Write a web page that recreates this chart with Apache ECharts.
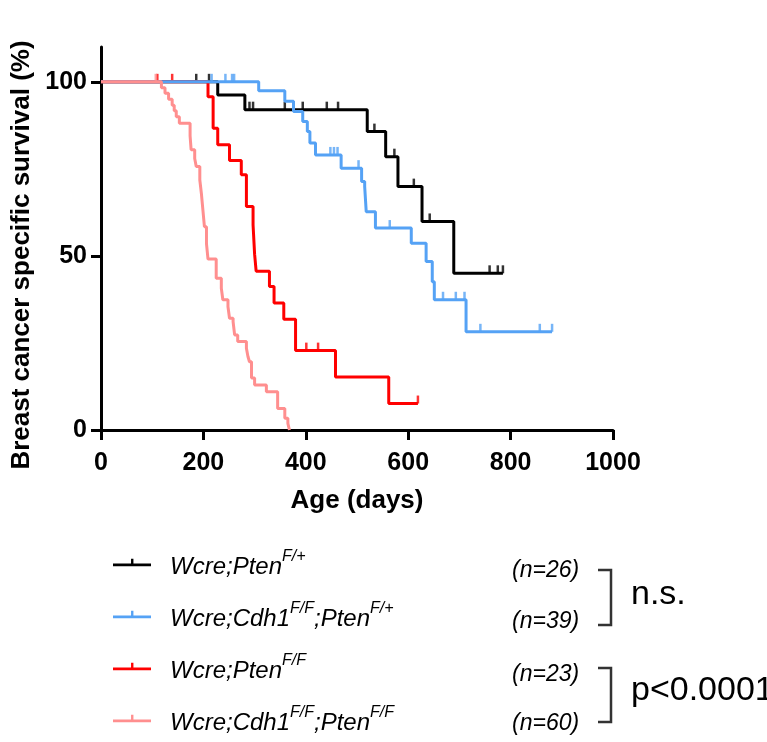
<!DOCTYPE html>
<html><head><meta charset="utf-8">
<script src="https://cdn.jsdelivr.net/npm/echarts@6/dist/echarts.min.js"></script>
<style>html,body{margin:0;padding:0;background:#fff}#c{width:767px;height:742px}</style>
</head><body><div id="c"></div>
<script>
// ---- data ----
const seriesNames = ['Wcre;Pten F/+', 'Wcre;Cdh1 F/F;Pten F/+', 'Wcre;Pten F/F', 'Wcre;Cdh1 F/F;Pten F/F'];
const legendParts = [
  [['Wcre;Pten', 'F/+']],
  [['Wcre;Cdh1', 'F/F'], [';Pten', 'F/+']],
  [['Wcre;Pten', 'F/F']],
  [['Wcre;Cdh1', 'F/F'], [';Pten', 'F/F']]
];
const nCounts = ['(n=26)', '(n=39)', '(n=23)', '(n=60)'];
const sigLabels = ['n.s.', 'p<0.0001'];
const xTicks = [0, 200, 400, 600, 800, 1000];
const yTicks = [0, 50, 100];
// [day, survival % after the event]
const blackSteps = [[0,100],[228,96.2],[281,92],[520,85.7],[556,78.5],[580,69.9],[627,59.9],[689,45],[785,45]];
const blueSteps = [[0,100],[308,97.4],[359,94.4],[376,91.5],[394,88.6],[403,85.7],[408,82.4],[419,79],[469,75.2],[509,71.4],[515,69.9],[518,62.7],[536,58],[606,53.6],[635,48.4],[647,42.6],[651,37.4],[713,28.2],[881,28.2]];
const redSteps = [[0,100],[209,95.7],[219,86.7],[228,81.9],[251,77.4],[274,73.3],[284,64.2],[297,58.9],[300,50.5],[303,45.6],[329,41.2],[338,36.5],[357,31.8],[380,22.8],[458,15.2],[562,7.6],[619,7.6]];
const pinkSteps = [[0,100],[118,98.3],[125,96.7],[132,95],[139,93.3],[143,91.7],[147,90],[153,88.1],[174,84.5],[176,80.5],[183,78],[186,75.7],[193,71.8],[196,68],[199,63.2],[202,58.4],[206,53.5],[209,49.1],[225,43.6],[235,40.7],[238,37.4],[248,35.4],[251,32.1],[258,31.1],[261,27.3],[267,25.4],[284,23.5],[287,21.1],[290,19.6],[294,14.9],[300,12.9],[323,11],[345,6.2],[359,3.4],[365,1.9],[368,0]];
const blackCensored = [186,211,290,297,359,394,441,463,534,573,611,642,759,775,785];
const blueCensored = [216,243,256,260,448,455,462,503,564,668,693,710,741,857,881];
const redCensored = [110,139,401,424,619];
const pinkCensored = [107];

const colors = ['#000000', '#55a2f5', '#ff0000', '#ff8f8f'];
const steps = [blackSteps, blueSteps, redSteps, pinkSteps];
const censored = [blackCensored, blueCensored, redCensored, pinkCensored];
const zOrder = [2, 4, 3, 5];

function valueAt(st, t) {
  let v = st[0][1];
  for (const p of st) { if (p[0] <= t) v = p[1]; }
  return v;
}

const series = [];
for (let i = 0; i < 4; i++) {
  series.push({
    name: seriesNames[i], type: 'line', step: 'end', data: steps[i],
    symbol: 'none', color: colors[i], z: zOrder[i],
    lineStyle: { width: 3, color: colors[i] }, animation: false
  });
  series.push({
    name: seriesNames[i], type: 'scatter', z: zOrder[i],
    data: censored[i].map(t => [t, valueAt(steps[i], t)]),
    symbol: 'rect', symbolSize: [2.5, 8], symbolOffset: [0, -4],
    itemStyle: { color: colors[i] }, color: colors[i], animation: false
  });
}

const sans = "'Liberation Sans', Arial, sans-serif";

const chart = echarts.init(document.getElementById('c'), null, { renderer: 'canvas' });
const rowTop = 545, rowH = 34, rowGap = 17;
const nCenters = [572, 623, 676, 725];

const graphics = [];
nCounts.forEach((t, i) => graphics.push({
  type: 'text', left: 512, top: nCenters[i] - 13,
  style: { text: t, fontSize: 23, fontStyle: 'italic', fontFamily: sans, fill: '#000' }
}));
graphics.push({ type: 'polyline', shape: { points: [[598,570],[611,570],[611,625],[598,625]] }, style: { stroke: '#333', lineWidth: 2.5, fill: null } });
graphics.push({ type: 'polyline', shape: { points: [[598,668],[611,668],[611,722],[598,722]] }, style: { stroke: '#333', lineWidth: 2.5, fill: null } });
graphics.push({ type: 'text', left: 631, top: 597 - 19, style: { text: sigLabels[0], fontSize: 34, fontFamily: sans, fill: '#000' } });
graphics.push({ type: 'text', left: 631, top: 693 - 19, style: { text: sigLabels[1], fontSize: 34, fontFamily: sans, fill: '#000' } });

chart.setOption({
  animation: false,
  backgroundColor: '#fff',
  grid: { left: 101, right: 154, top: 47, bottom: 312 },
  xAxis: {
    type: 'value', min: 0, max: 1000, interval: 200,
    axisLine: { lineStyle: { color: '#000', width: 3 } },
    axisTick: { length: 10, lineStyle: { color: '#000', width: 3 }, customValues: xTicks },
    axisLabel: { customValues: xTicks, formatter: v => String(v), fontSize: 25, fontWeight: 'bold', fontFamily: sans, color: '#000', margin: 21 },
    splitLine: { show: false },
    name: 'Age (days)', nameLocation: 'middle', nameGap: 58,
    nameTextStyle: { fontSize: 26, fontWeight: 'bold', fontFamily: sans, color: '#000' }
  },
  yAxis: {
    type: 'value', min: 0, max: 110, interval: 50,
    axisLine: { show: true, lineStyle: { color: '#000', width: 3 } },
    axisTick: { show: true, length: 10, lineStyle: { color: '#000', width: 3 }, customValues: yTicks },
    axisLabel: { customValues: yTicks, formatter: v => String(v), fontSize: 25, fontWeight: 'bold', fontFamily: sans, color: '#000', margin: 14 },
    splitLine: { show: false },
    name: 'Breast cancer specific survival (%)', nameLocation: 'middle', nameGap: 64, nameRotate: 90,
    nameTextStyle: { fontSize: 26, fontWeight: 'bold', fontFamily: sans, color: '#000', padding: [0, 33, 0, 0] }
  },
  legend: {
    orient: 'vertical', left: 113, top: rowTop, height: 197, padding: 0,
    itemWidth: 38, itemHeight: 8, itemGap: rowGap,
    icon: 'path://M0,5L40,5L40,8L0,8Z M19,0L21.5,0L21.5,5L19,5Z',
    data: seriesNames,
    formatter: function (name) {
      const parts = legendParts[seriesNames.indexOf(name)];
      return parts.map((p, j) => '{' + (j === 0 ? 'a' : 'm') + '|' + p[0] + '}{s|' + p[1] + '}').join('');
    },
    textStyle: {
      rich: {
        a: { fontStyle: 'italic', fontSize: 24, lineHeight: 24, padding: [10, 0, 0, 14], fontFamily: sans, color: '#000' },
        m: { fontStyle: 'italic', fontSize: 24, lineHeight: 24, padding: [10, 0, 0, 0], fontFamily: sans, color: '#000' },
        s: { fontStyle: 'italic', fontSize: 16, lineHeight: 15, padding: [4, 0, 15, 0], fontFamily: sans, color: '#000' }
      }
    }
  },
  graphic: graphics,
  series: series
});
</script></body></html>
